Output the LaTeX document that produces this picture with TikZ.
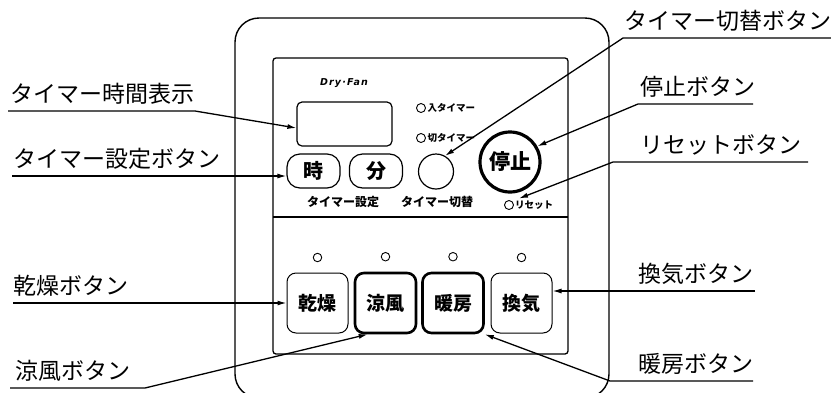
\documentclass[tikz,border=0pt]{standalone}
\usepackage{fontspec}
\setmainfont{Noto Sans CJK JP}
\newfontfamily\dryfont[LetterSpace=12]{DejaVu Sans}
\usetikzlibrary{arrows.meta, positioning, calc}

\begin{document}
\begin{tikzpicture}[
  x=1pt, y=-1pt,
  lbl/.style={
    anchor=base west, inner sep=0pt,
    font=\fontsize{23}{23}\selectfont
  },
  lead/.style={-{Latex[length=9pt,width=5pt]}, line width=1.3pt},
  btn/.style={
    draw, line width=1pt, rounded corners=9pt,
    minimum width=61pt, minimum height=60pt,
    font=\fontsize{19}{19}\selectfont\bfseries
  },
  btnon/.style={btn, line width=2.6pt},
  led/.style={draw, circle, line width=0.9pt, inner sep=0pt, minimum size=9pt},
  tag/.style={inner sep=0pt, font=\fontsize{12}{12}\selectfont\bfseries},
  small/.style={inner sep=0pt, font=\fontsize{9.5}{9.5}\selectfont\bfseries}
]
  \useasboundingbox (0,0) rectangle (831,392);

  \draw[line width=1.4pt, rounded corners=24pt] (235,18) rectangle (609,398);
  \draw[line width=1.3pt, rounded corners=3pt] (273,58) rectangle (568,354);
  \draw[line width=1.1pt] (273,217) -- (568,217);

  \node[font=\dryfont\fontsize{9.5}{9.5}\selectfont\bfseries\itshape] (brand) at (344,83) {Dry·Fan};
  \node[draw, line width=1.2pt, rounded corners=5pt,
        minimum width=95pt, minimum height=44pt] (disp) at (344.5,124) {};

  \node[draw, line width=1.2pt, rounded corners=13pt, minimum width=53pt, minimum height=34pt,
        font=\fontsize{20}{20}\selectfont\bfseries] (ji) at (313.5,171) {時};
  \node[draw, line width=1.2pt, rounded corners=13pt, minimum width=53pt, minimum height=34pt,
        font=\fontsize{20}{20}\selectfont\bfseries] (fun) at (376,171) {分};

  \node[led] (inled) at (421,108) {};
  \node[small, right=1.5pt of inled] (intxt) {入タイマー};
  \node[led] (offled) at (421,138) {};
  \node[small, right=1.5pt of offled] (offtxt) {切タイマー};

  \node[draw, circle, line width=1.2pt, minimum size=35pt, inner sep=0pt] (kirikae) at (436,171.5) {};
  \node[draw, circle, line width=3.2pt, minimum size=60pt, inner sep=0pt,
        font=\fontsize{21}{21}\selectfont\bfseries] (stop) at (510,162) {停止};

  \node[tag] (settag) at (343,202) {タイマー設定};
  \node[tag] (kirtag) at (437,202) {タイマー切替};
  \node[led] (resetled) at (509,205) {};
  \node[small, right=1pt of resetled] (resettxt) {リセット};

  \node[btn]   (kanso) at (317.5,303) {乾燥};
  \node[btnon] (ryofu) at (385.5,303) {涼風};
  \node[btnon] (danbo) at (453,303)   {暖房};
  \node[btn]   (kanki) at (521.5,303) {換気};
  \foreach \b in {kanso,ryofu,danbo,kanki}
    \node[led, minimum size=8.5pt] (\b-led) at ($(\b.north)+(0,-15)$) {};

  \node[lbl] (tdisplbl) at (10,102)  {タイマー時間表示};
  \node[lbl] (tsetlbl)  at (13,167)  {タイマー設定ボタン};
  \node[lbl] (kansolbl) at (13,294)  {乾燥ボタン};
  \node[lbl] (ryofulbl) at (15,379)  {涼風ボタン};
  \node[lbl] (kirlbl)   at (624,29)  {タイマー切替ボタン};
  \node[lbl] (stoplbl)  at (640,95)  {停止ボタン};
  \node[lbl] (resetlbl) at (640,153) {リセットボタン};
  \node[lbl] (kankilbl) at (638,282) {換気ボタン};
  \node[lbl] (danbolbl) at (638,372) {暖房ボタン};

  \coordinate (tdispA) at (8,111);   \coordinate (tdispB) at (195,111);
  \coordinate (tsetA)  at (12,176);
  \coordinate (kansoA) at (13,303);
  \coordinate (ryofuA) at (10,388);  \coordinate (ryofuB) at (145,388);
  \coordinate (kirA)   at (831,38);  \coordinate (kirB)   at (623,38);
  \coordinate (stopA)  at (753,104); \coordinate (stopB)  at (638,104);
  \coordinate (resetA) at (808,162); \coordinate (resetB) at (613,162);
  \coordinate (kankiA) at (755,291);
  \coordinate (danboA) at (753,381); \coordinate (danboB) at (610,381);

  \draw[lead] (tdispA) -- (tdispB) -- ($(disp.west)+(0,4)$);
  \draw[lead] (tsetA) -- (tsetA -| ji.west);
  \draw[lead] (kansoA) -- (kanso.west);
  \draw[lead] (ryofuA) -- (ryofuB) -- ($(ryofu.south west)!0.22!(ryofu.south east)$);
  \draw[lead] (kirA) -- (kirB) -- (kirikae.60);
  \draw[lead] (stopA) -- (stopB) -- (stop.30);
  \draw[lead] (resetA) -- (resetB) -- ($(resettxt.north west)+(4,-2)$);
  \draw[lead] (kankiA) -- (kankiA -| kanki.east);
  \draw[lead] (danboA) -- (danboB) -- (danbo.south east);
\end{tikzpicture}
\end{document}
